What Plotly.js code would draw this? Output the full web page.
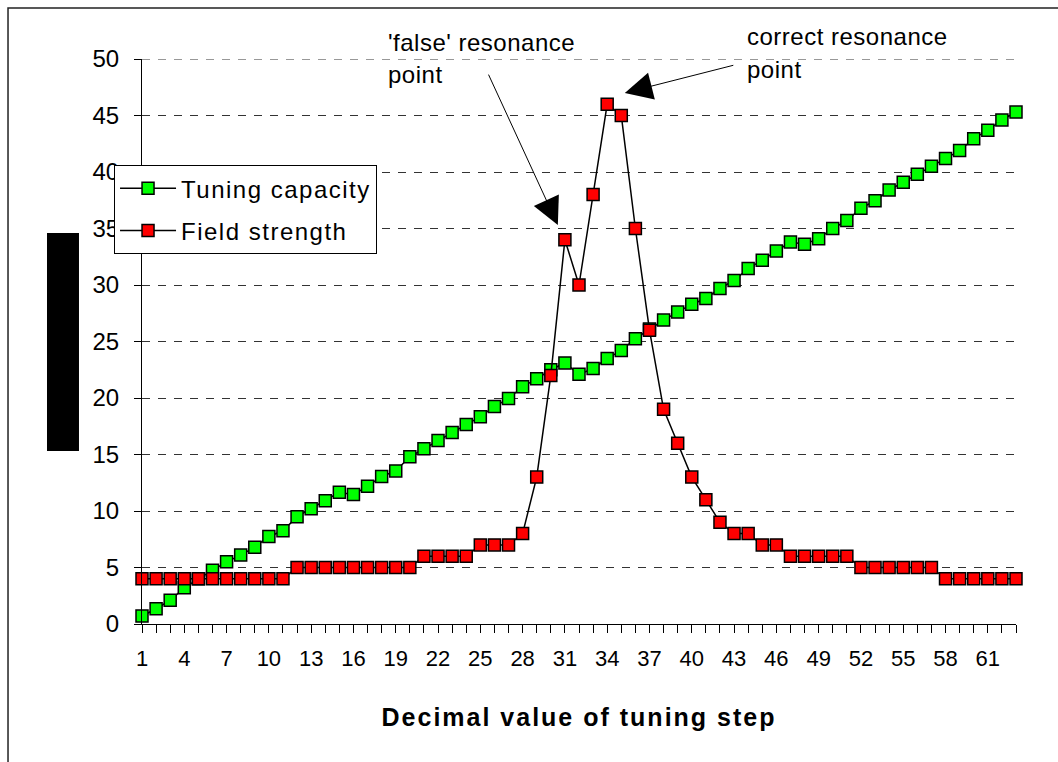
<!DOCTYPE html>
<html>
<head>
<meta charset="utf-8">
<script src="https://cdn.plot.ly/plotly-3.0.1.min.js"></script>
<style>
  html, body { margin: 0; padding: 0; background: #fff; }
  #chart { width: 1058px; height: 762px; }
  .legendtext { letter-spacing: 1.5px; }
  .annotation-text { letter-spacing: 0.5px; }
  .xtitle { letter-spacing: 2px; }
</style>
</head>
<body>
<div id="chart"></div>
<script>
// Decimal value of tuning step (categories)
const steps = [1,2,3,4,5,6,7,8,9,10,11,12,13,14,15,16,17,18,19,20,
  21,22,23,24,25,26,27,28,29,30,31,32,33,34,35,36,37,38,39,40,
  41,42,43,44,45,46,47,48,49,50,51,52,53,54,55,56,57,58,59,60,61,62,63];

const tuningCapacity = [0.7,1.35,2.1,3.2,4.0,4.75,5.5,6.1,6.8,7.75,
  8.25,9.5,10.2,10.9,11.65,11.45,12.2,13.05,13.55,14.8,
  15.5,16.25,16.95,17.65,18.35,19.25,19.95,21.0,21.7,22.5,
  23.1,22.1,22.6,23.5,24.2,25.25,26.1,26.9,27.6,28.3,
  28.8,29.7,30.4,31.45,32.2,33.0,33.8,33.6,34.1,35.0,
  35.7,36.8,37.45,38.4,39.1,39.8,40.5,41.2,41.9,42.95,
  43.7,44.6,45.3];

const fieldStrength = [4,4,4,4,4,4,4,4,4,4,
  4,5,5,5,5,5,5,5,5,5,
  6,6,6,6,7,7,7,8,13,22,
  34,30,38,46,45,35,26,19,16,13,
  11,9,8,8,7,7,6,6,6,6,
  6,5,5,5,5,5,5,4,4,4,
  4,4,4];

const tickLabels = ["1","4","7","10","13","16","19","22","25","28","31",
  "34","37","40","43","46","49","52","55","58","61"];

const seriesNames = ["Tuning capacity", "Field strength"];
const seriesColors = ["#00ff00", "#ff0000"];

const yMax = 50;

const tickText = steps.map(s => tickLabels.indexOf(String(s)) >= 0 ? String(s) : "");

const FONT = "Liberation Sans, Arial, Helvetica, sans-serif";

function mkTrace(y, i) {
  return {
    type: "scatter",
    mode: "lines+markers",
    x: steps,
    y: y,
    name: seriesNames[i],
    legendgroup: "g" + i,
    cliponaxis: false,
    line: { color: "#000", width: 1.5 },
    marker: { symbol: "square", size: 12, color: seriesColors[i],
              line: { color: "#000", width: 1.5 } }
  };
}

const data = [mkTrace(tuningCapacity, 0), mkTrace(fieldStrength, 1)];

const layout = {
  width: 1058,
  height: 762,
  margin: { l: 142, r: 42, t: 59, b: 138 },
  paper_bgcolor: "#fff",
  plot_bgcolor: "#fff",
  showlegend: true,
  font: { family: FONT, color: "#000", size: 22 },
  xaxis: {
    range: [1, 63],
    tickmode: "array",
    tickvals: steps,
    ticktext: tickText,
    ticks: "outside",
    ticklen: 8,
    tickwidth: 1,
    tickcolor: "#000",
    showline: true,
    linecolor: "#000",
    linewidth: 1,
    showgrid: false,
    zeroline: false,
    tickangle: 0,
    tickfont: { family: FONT, size: 22, color: "#000" },
    ticklabelstandoff: 7,
    title: { text: "Decimal value of tuning step",
             font: { family: FONT, size: 25, color: "#000", weight: "bold" },
             standoff: 38 },
    fixedrange: true
  },
  xaxis2: {
    overlaying: "x",
    anchor: "y",
    side: "bottom",
    range: [1, 63],
    tickmode: "array",
    tickvals: steps,
    ticktext: steps.map(() => ""),
    ticks: "inside",
    ticklen: 4,
    tickwidth: 1,
    tickcolor: "#000",
    showticklabels: false,
    showgrid: false,
    showline: false,
    zeroline: false
  },
  yaxis: {
    range: [0, yMax],
    dtick: 5,
    tick0: 0,
    ticks: "outside",
    ticklen: 7,
    tickwidth: 1,
    tickcolor: "#000",
    showline: true,
    linecolor: "#000",
    linewidth: 1,
    showgrid: true,
    gridcolor: "#333",
    gridwidth: 1,
    griddash: "8px,8px",
    zeroline: false,
    tickfont: { family: FONT, size: 24, color: "#000" },
    ticklabelstandoff: 10,
    fixedrange: true
  },
  legend: {
    x: -0.032, y: 0.812, xanchor: "left", yanchor: "top",
    bgcolor: "#fff",
    bordercolor: "#000",
    borderwidth: 1,
    font: { family: FONT, size: 24, color: "#000" },
    itemwidth: 56,
    tracegroupgap: 8,
    traceorder: "grouped"
  },
  shapes: [
    { type: "rect", xref: "paper", yref: "paper",
      x0: -0.1533, x1: 1.2, y0: -0.3, y1: 1.0903,
      line: { color: "#222", width: 1.5 }, fillcolor: "rgba(0,0,0,0)", layer: "below" },
    { type: "line", xref: "paper", yref: "y",
      x0: 0, x1: 1, y0: yMax, y1: yMax,
      line: { color: "#333", width: 1, dash: "8px,8px" }, layer: "below" },
    { type: "rect", xref: "paper", yref: "paper",
      x0: -0.1087, x1: -0.0721, y0: 0.306, y1: 0.692,
      line: { width: 0 }, fillcolor: "#000" }
  ],
  annotations: [
    { x: 30.5, y: 35.3, xref: "x", yref: "y", text: "", showarrow: true,
      ax: -70, ay: -152, arrowhead: 2, arrowsize: 5.5, arrowwidth: 1, arrowcolor: "#000" },
    { x: 35.25, y: 47.0, xref: "x", yref: "y", text: "", showarrow: true,
      ax: 110, ay: -28, arrowhead: 2, arrowsize: 5.5, arrowwidth: 1, arrowcolor: "#000" },
    { x: 0.279, y: 1.030, xref: "paper", yref: "paper", xanchor: "left", yanchor: "middle",
      text: "'false' resonance", showarrow: false, font: { family: FONT, size: 24, color: "#000" } },
    { x: 0.279, y: 0.973, xref: "paper", yref: "paper", xanchor: "left", yanchor: "middle",
      text: "point", showarrow: false, font: { family: FONT, size: 24, color: "#000" } },
    { x: 0.690, y: 1.039, xref: "paper", yref: "paper", xanchor: "left", yanchor: "middle",
      text: "correct resonance", showarrow: false, font: { family: FONT, size: 24, color: "#000" } },
    { x: 0.690, y: 0.981, xref: "paper", yref: "paper", xanchor: "left", yanchor: "middle",
      text: "point", showarrow: false, font: { family: FONT, size: 24, color: "#000" } }
  ]
};

Plotly.newPlot("chart", data, layout, { displayModeBar: false, staticPlot: true });
</script>
</body>
</html>
